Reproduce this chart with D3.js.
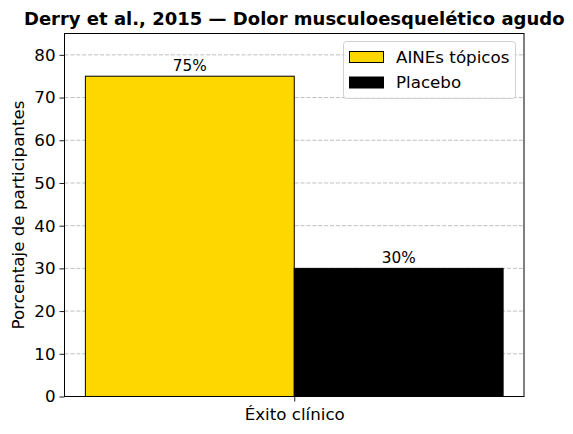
<!DOCTYPE html>
<html>
<head>
<meta charset="utf-8">
<script src="https://cdn.jsdelivr.net/npm/d3@7"></script>
<style>
  body { margin: 0; background: #fff; }
  text { font-family: "DejaVu Sans", sans-serif; }
</style>
</head>
<body>
<div id="chart"></div>
<script>
// data
const categories = ["Éxito clínico"];
const seriesNames = ["AINEs tópicos", "Placebo"];
const seriesColors = ["#FFD700", "#000000"];
const topicos = [75];
const placebo = [30];
const yTicks = [0, 10, 20, 30, 40, 50, 60, 70, 80];

const W = 573, H = 434;
const margin = {top: 33.5, right: 49, bottom: 37.5, left: 64.5};
const width = W - margin.left - margin.right;
const height = H - margin.top - margin.bottom;
const fs = "16.7px";

const svg = d3.select("#chart")
  .append("svg")
    .attr("width", W)
    .attr("height", H);

const g = svg.append("g")
  .attr("transform", "translate(" + margin.left + "," + margin.top + ")");

// category positions 0,1,... bars offset +-0.2, width 0.4
const barW = 0.4;
const x = d3.scaleLinear()
  .domain([-0.44, categories.length - 1 + 0.44])
  .range([0, width]);
const y = d3.scaleLinear()
  .domain([0, 85])
  .range([height, 0]);

// grid
g.append("g")
  .selectAll("line")
  .data(yTicks)
  .enter()
  .append("line")
    .attr("x1", 0)
    .attr("x2", width)
    .attr("y1", d => y(d))
    .attr("y2", d => y(d))
    .attr("stroke", "#b0b0b0")
    .attr("stroke-width", 0.8)
    .attr("stroke-dasharray", "4.1,1.8");

// bars
const series = [topicos, placebo];
series.forEach((vals, s) => {
  const off = s === 0 ? -barW / 2 : barW / 2;
  g.selectAll(".bar" + s)
    .data(vals)
    .enter()
    .append("rect")
      .attr("x", (d, i) => x(i + off - barW / 2))
      .attr("width", x(barW) - x(0))
      .attr("y", d => y(d))
      .attr("height", d => height - y(d))
      .attr("fill", seriesColors[s])
      .attr("stroke", "#000")
      .attr("stroke-width", 1);

  g.selectAll(".lab" + s)
    .data(vals)
    .enter()
    .append("text")
      .attr("x", (d, i) => x(i + off))
      .attr("y", d => y(d) - 5)
      .attr("text-anchor", "middle")
      .style("font-size", "15.3px")
      .text(d => d + "%");
});

// axes
const yAxis = g.append("g")
  .call(d3.axisLeft(y).tickValues(yTicks).tickSize(5).tickPadding(4));
const xAxis = g.append("g")
  .attr("transform", "translate(0," + height + ")")
  .call(d3.axisBottom(x).tickValues(categories.map((c, i) => i))
    .tickFormat(i => categories[i]).tickSize(5).tickPadding(7));
[yAxis, xAxis].forEach(a => {
  a.select(".domain").remove();
  a.selectAll("line").attr("stroke", "#000").attr("stroke-width", 0.9);
  a.selectAll("text").style("font-size", fs).attr("fill", "#000")
    .style("font-family", "DejaVu Sans, sans-serif");
});

// frame
g.append("rect")
  .attr("width", width)
  .attr("height", height)
  .attr("fill", "none")
  .attr("stroke", "#000")
  .attr("stroke-width", 1);

// axis label
svg.append("text")
  .attr("transform", "translate(24," + (margin.top + height / 2) + ") rotate(-90)")
  .attr("text-anchor", "middle")
  .style("font-size", fs)
  .text("Porcentaje de participantes");

// title
svg.append("text")
  .attr("x", margin.left + width / 2)
  .attr("y", 25)
  .attr("text-anchor", "middle")
  .style("font-size", "18px")
  .style("font-weight", "bold")
  .text("Derry et al., 2015 — Dolor musculoesquelético agudo");

// legend
const lg = svg.append("g").attr("transform", "translate(343.5,41.5)");
lg.append("rect")
  .attr("width", 172)
  .attr("height", 57)
  .attr("rx", 3)
  .attr("fill", "#fff")
  .attr("fill-opacity", 0.8)
  .attr("stroke", "#d0d0d0");
seriesNames.forEach((n, i) => {
  lg.append("rect")
    .attr("x", 6)
    .attr("y", 10 + i * 25.5)
    .attr("width", 34)
    .attr("height", 11)
    .attr("fill", seriesColors[i])
    .attr("stroke", "#000");
  lg.append("text")
    .attr("x", 52.5)
    .attr("y", 21 + i * 25.5)
    .style("font-size", fs)
    .text(n);
});
</script>
</body>
</html>
